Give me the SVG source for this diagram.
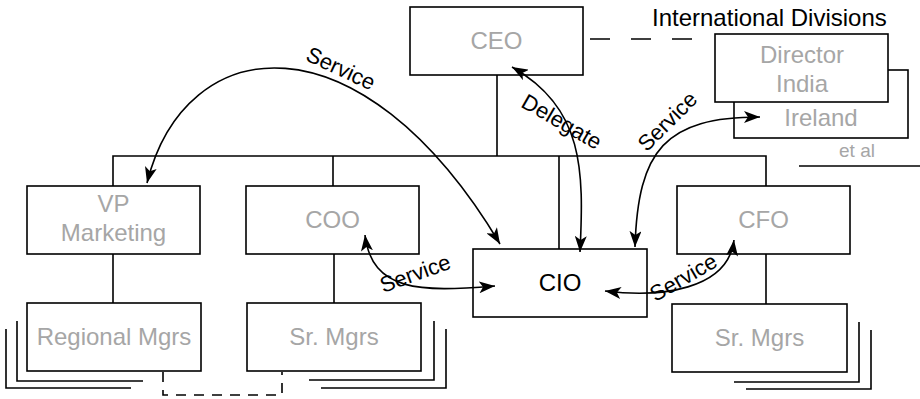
<svg xmlns="http://www.w3.org/2000/svg" width="920" height="399" viewBox="0 0 920 399">
  <defs>
    <marker id="arrow" viewBox="0 0 16 12" refX="16" refY="6" markerWidth="16" markerHeight="12" markerUnits="userSpaceOnUse" orient="auto-start-reverse">
      <path d="M0,0 L16,6 L0,12 L4,6 Z" fill="#000"/>
    </marker>
    <style>
      .box { fill: #fff; stroke: #000; stroke-width: 1.6; }
      .line { fill: none; stroke: #000; stroke-width: 1.6; }
      .dash { fill: none; stroke: #000; stroke-width: 1.6; }
      .flow { fill: none; stroke: #000; stroke-width: 1.6; marker-start: url(#arrow); marker-end: url(#arrow); }
      .name { font-family: "Liberation Sans", Arial, sans-serif; font-size: 24px; fill: #a6a6a6; text-anchor: middle; }
      .main { fill: #000; }
      .note { font-family: "Liberation Sans", Arial, sans-serif; font-size: 24px; fill: #000; }
      .small { font-family: "Liberation Sans", Arial, sans-serif; font-size: 19px; fill: #a6a6a6; text-anchor: middle; }
      .lbl { font-family: "Liberation Sans", Arial, sans-serif; font-size: 22px; fill: #000; text-anchor: middle; }
    </style>
  </defs>
  <rect width="920" height="399" fill="#fff"/>

  <g id="ceo">
    <rect class="box" x="410" y="7" width="173" height="68"/>
    <text class="name" x="496.5" y="49">CEO</text>
  </g>

  <g id="international">
    <text class="note" x="652" y="26">International Divisions</text>
    <rect class="box" x="734" y="70" width="174" height="68"/>
    <rect class="box" x="715" y="34" width="173" height="68"/>
    <text class="name" x="802" y="63">Director</text>
    <text class="name" x="802" y="92">India</text>
    <text class="name" x="821" y="126">Ireland</text>
    <text class="small" x="857" y="157">et al</text>
    <path class="line" d="M799,166 H920"/>
  </g>

  <g id="vp-marketing">
    <rect class="box" x="27" y="186" width="173" height="68"/>
    <text class="name" x="113.5" y="212">VP</text>
    <text class="name" x="113.5" y="241">Marketing</text>
  </g>

  <g id="coo">
    <rect class="box" x="246" y="186" width="173" height="68"/>
    <text class="name" x="332.5" y="228">COO</text>
  </g>

  <g id="cio">
    <rect class="box" x="473" y="249" width="174" height="68"/>
    <text class="name main" x="560" y="291">CIO</text>
  </g>

  <g id="cfo">
    <rect class="box" x="677" y="186" width="173" height="68"/>
    <text class="name" x="763.5" y="228">CFO</text>
  </g>

  <g id="regional-mgrs">
    <path class="line" d="M17,321 V381 H143 M6,329 V388 H131"/>
    <rect class="box" x="27" y="303" width="174" height="68"/>
    <text class="name" x="114" y="345">Regional Mgrs</text>
  </g>

  <g id="coo-sr-mgrs">
    <path class="line" d="M434,321 V380 H309 M446,329 V388 H321"/>
    <rect class="box" x="247" y="303" width="174" height="68"/>
    <text class="name" x="334" y="345">Sr. Mgrs</text>
  </g>

  <g id="cfo-sr-mgrs">
    <path class="line" d="M859,322 V382 H734 M871,330 V389 H746"/>
    <rect class="box" x="672" y="304" width="175" height="68"/>
    <text class="name" x="759.5" y="346">Sr. Mgrs</text>
  </g>

  <!-- reporting lines and service relations, drawn over the boxes -->
  <g id="connectors">
    <path class="line" d="M497,75 V156 M113,186 V156 H766 V186 M333,156 V186 M559,156 V249"/>
    <path class="line" d="M113,254 V303 M334,254 V303 M766,254 V304"/>
    <path class="dash" stroke-dasharray="20 21" d="M590,39 H693"/>
    <path class="dash" stroke-dasharray="10 8" d="M163,372 V395 H282 V372"/>

    <path class="flow" d="M147,183 C185,30 360,10 500,244"/>
    <path class="flow" d="M512,67 C584,108 584,170 580,252"/>
    <path class="flow" d="M635,247 C638,150 665,117 760,117"/>
    <path class="flow" d="M365,235 C372,292 420,292 495,286"/>
    <path class="flow" d="M605,291 C660,298 728,290 734,240"/>

    <text class="lbl" transform="translate(341,68) rotate(25)" y="8">Service</text>
    <text class="lbl" transform="translate(561,123) rotate(30)" y="6">Delegate</text>
    <text class="lbl" transform="translate(667,121) rotate(-45)" y="8">Service</text>
    <text class="lbl" transform="translate(415,273) rotate(-20)" y="8">Service</text>
    <text class="lbl" transform="translate(683,277) rotate(-30)" y="8">Service</text>
  </g>
</svg>
